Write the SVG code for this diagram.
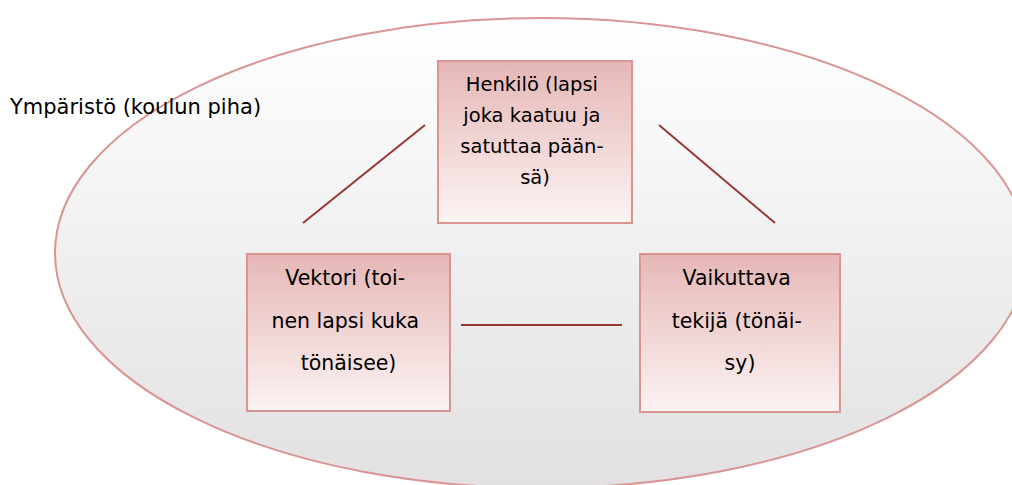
<svg xmlns="http://www.w3.org/2000/svg" width="1012" height="485" viewBox="0 0 1012 485">
  <defs>
    <linearGradient id="envFill" x1="0" y1="0" x2="0" y2="1">
      <stop offset="0" stop-color="#ffffff"/>
      <stop offset="1" stop-color="#e2e0e1"/>
    </linearGradient>
    <linearGradient id="boxFill" x1="0" y1="0" x2="0" y2="1">
      <stop offset="0" stop-color="#e5b7b6"/>
      <stop offset="1" stop-color="#fcf3f3"/>
    </linearGradient>
    <style>
      .env { fill: url(#envFill); stroke: #d99594; stroke-width: 2; }
      .box { fill: url(#boxFill); stroke: #d99594; stroke-width: 2; }
      .link { stroke: #953735; stroke-width: 2; fill: none; }
      .label { font-family: "DejaVu Sans", "Liberation Sans", sans-serif; fill: #000000; text-anchor: middle; }
      .env-label { font-family: "DejaVu Sans", "Liberation Sans", sans-serif; fill: #000000; font-size: 21px; }
    </style>
  </defs>

  <!-- environment -->
  <g id="environment">
    <ellipse class="env" cx="541" cy="253" rx="486" ry="235"/>
    <text class="env-label" x="10" y="114">Ympäristö (koulun piha)</text>
  </g>

  <!-- connectors between the three factors -->
  <g id="connectors">
    <line class="link" x1="303" y1="223" x2="425" y2="125"/>
    <line class="link" x1="659" y1="125" x2="775" y2="223"/>
    <line class="link" x1="461" y1="325" x2="622" y2="325"/>
  </g>

  <g id="henkilo">
    <rect class="box" x="438" y="61" width="194" height="162"/>
    <text class="label" font-size="19.5">
      <tspan x="535" y="91">Henkilö (lapsi</tspan>
      <tspan x="535" y="122">joka kaatuu ja</tspan>
      <tspan x="535" y="153">satuttaa pään-</tspan>
      <tspan x="535" y="184">sä)</tspan>
    </text>
  </g>

  <g id="vektori">
    <rect class="box" x="247" y="254" width="203" height="157"/>
    <text class="label" font-size="20.5">
      <tspan x="348.5" y="285">Vektori (toi-</tspan>
      <tspan x="348.5" y="328">nen lapsi kuka</tspan>
      <tspan x="348.5" y="370">tönäisee)</tspan>
    </text>
  </g>

  <g id="vaikuttava">
    <rect class="box" x="640" y="254" width="200" height="158"/>
    <text class="label" font-size="20.5">
      <tspan x="740" y="285">Vaikuttava</tspan>
      <tspan x="740" y="328">tekijä (tönäi-</tspan>
      <tspan x="740" y="370">sy)</tspan>
    </text>
  </g>
</svg>
